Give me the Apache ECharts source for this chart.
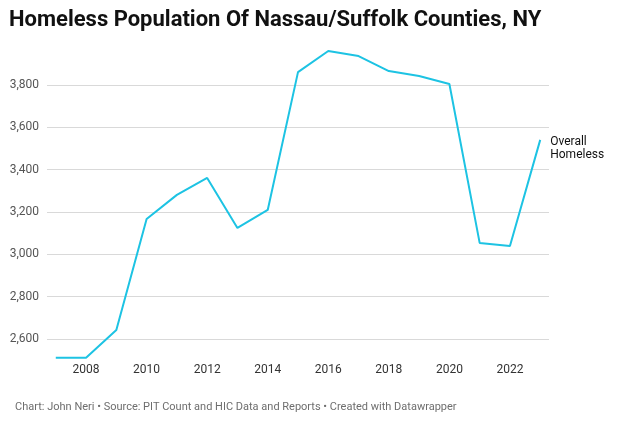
<!DOCTYPE html>
<html>
<head>
<meta charset="utf-8">
<script src="https://cdn.jsdelivr.net/npm/echarts@6/dist/echarts.min.js"></script>
<style>
html,body{margin:0;padding:0;background:#fff;}
#chart{width:624px;height:421px;}
</style>
</head>
<body>
<div id="chart"></div>
<script>
const years = [2007,2008,2009,2010,2011,2012,2013,2014,2015,2016,2017,2018,2019,2020,2021,2022,2023];
const homeless = [2512,2512,2643,3167,3281,3361,3125,3210,3861,3961,3937,3866,3843,3805,3054,3040,3541];
const xTickLabels = [2008,2010,2012,2014,2016,2018,2020,2022];
const yTickLabels = [2600,2800,3000,3200,3400,3600,3800];
const seriesName = 'Overall\nHomeless';
const titleText = 'Homeless Population Of Nassau/Suffolk Counties, NY';
const footerText = 'Chart: John Neri \u2022 Source: PIT Count and HIC Data and Reports \u2022 Created with Datawrapper';

const yMin = 2500, yMax = 4000, yStep = 100;
const gridColors = [];
for (let v = yMin; v <= yMax; v += yStep) {
  gridColors.push(yTickLabels.indexOf(v) >= 0 ? '#d9d9d9' : 'rgba(0,0,0,0)');
}

const chart = echarts.init(document.getElementById('chart'), null, {renderer: 'canvas'});
chart.setOption({
  animation: false,
  backgroundColor: '#fff',
  title: [{
    text: titleText,
    left: 9, top: 9, padding: 0,
    textStyle: {fontFamily: 'Roboto', fontWeight: 'bold', fontSize: 22, color: '#111'}
  }, {
    text: footerText,
    left: 10, top: 397,
    textStyle: {fontFamily: 'Roboto', fontWeight: 'normal', fontSize: 11, color: '#6e6e6e'}
  }],
  grid: {left: 47, right: 75, top: 42.7, bottom: 60.8, containLabel: false},
  xAxis: {
    type: 'value',
    min: 2006.71, max: 2023.29,
    axisLine: {show: false},
    axisTick: {show: false},
    splitLine: {show: false},
    axisLabel: {
      customValues: xTickLabels,
      margin: 4,
      fontFamily: 'Roboto', fontSize: 12, color: '#333',
      formatter: v => String(v)
    }
  },
  yAxis: {
    type: 'value',
    min: yMin, max: yMax, interval: yStep,
    axisLine: {show: false},
    axisTick: {show: false},
    splitLine: {show: true, lineStyle: {color: gridColors, width: 1}},
    axisLabel: {
      margin: 8,
      fontFamily: 'Roboto', fontSize: 12, color: '#555',
      formatter: v => yTickLabels.indexOf(v) >= 0 ? v.toLocaleString('en-US') : ''
    }
  },
  series: [{
    type: 'line',
    name: seriesName,
    data: years.map((y, i) => [y, homeless[i]]),
    showSymbol: false,
    symbol: 'none',
    lineStyle: {color: '#1dc3e3', width: 2},
    endLabel: {
      show: true,
      formatter: seriesName,
      distance: 5,
      offset: [5, 9],
      align: 'left',
      fontFamily: 'Roboto', fontSize: 12, lineHeight: 13, color: '#111'
    }
  }]
});
</script>
</body>
</html>
